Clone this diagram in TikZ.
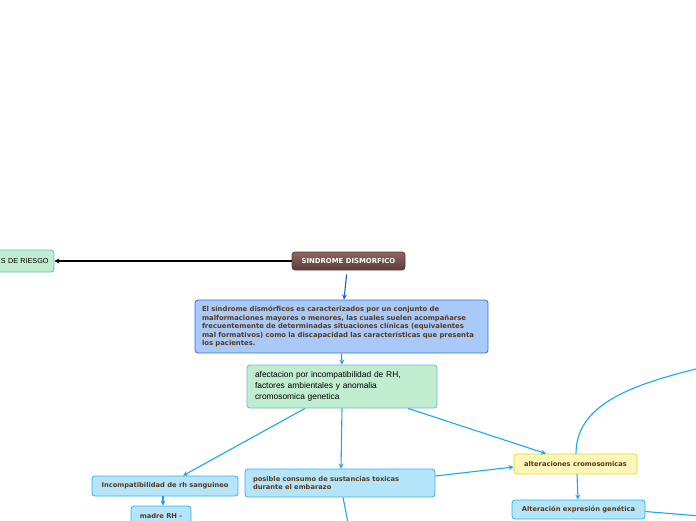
\documentclass[tikz,border=0pt]{standalone}
\usepackage{fontspec}
\setmainfont{Liberation Sans}
\newfontfamily\vfont{DejaVu Sans}
\usetikzlibrary{arrows.meta,calc}
\definecolor{brownA}{HTML}{8C6762}
\definecolor{brownB}{HTML}{5C3C38}
\definecolor{txtbrown}{HTML}{5A3A1C}
\definecolor{greenfill}{HTML}{C0ECD0}
\definecolor{greenedge}{HTML}{6EB4E0}
\definecolor{descfill}{HTML}{A9C9F8}
\definecolor{descedge}{HTML}{2E6FE0}
\definecolor{cyanfill}{HTML}{B4E5FA}
\definecolor{cyanedge}{HTML}{30B0EE}
\definecolor{yelfill}{HTML}{FFF7B8}
\definecolor{yeledge}{HTML}{E8D22E}
\definecolor{linkblue}{HTML}{1AA8EC}
\definecolor{darkblue}{HTML}{1A5FD6}
\tikzset{
  box/.style={draw, rounded corners=3pt, line width=0.8pt, inner sep=0pt},
  boldtxt/.style={text=txtbrown, font=\vfont\bfseries\fontsize{6.7}{8.5}\selectfont},
  cyanbox/.style={box, fill=cyanfill, draw=cyanedge, boldtxt},
  link/.style={draw=linkblue, line width=1.1pt, -{Stealth[length=5pt,width=5pt]}},
  plainlink/.style={draw=linkblue, line width=1.1pt},
}
\begin{document}
\begin{tikzpicture}[x=1pt,y=-1pt]
\useasboundingbox (0,0) rectangle (696,520);
% main title
\node[box, draw=brownB, top color=brownA, bottom color=brownB, text=white,
  font=\vfont\bfseries\fontsize{6.9}{8}\selectfont,
  minimum width=113pt, minimum height=18pt] (sd) at (348.5,261) {SINDROME DISMORFICO};
% left clipped node
\node[box, fill=greenfill, draw=greenedge, text=black,
  font=\fontsize{7.2}{8}\selectfont, text width=73pt, align=right, inner xsep=5.5pt,
  minimum height=22pt] (fr) at (12,261) {S DE RIESGO};
% description
\node[box, fill=descfill, draw=descedge, boldtxt, font=\vfont\bfseries\fontsize{6.85}{8.5}\selectfont,
  text width=279pt, align=left, inner xsep=7pt, minimum height=53pt] (desc) at (341.5,326.5)
  {El síndrome dismórficos es caracterizados por un conjunto de\\
   malformaciones mayores o menores, las cuales suelen acompañarse\\
   frecuentemente de determinadas situaciones clínicas (equivalentes\\
   mal formativos) como la discapacidad las características que presenta\\
   los pacientes.};
% afectacion
\node[box, fill=greenfill, draw=greenedge, text=black, font=\fontsize{8.4}{11}\selectfont,
  text width=174pt, align=left, inner xsep=8pt, minimum height=43pt] (afect) at (342,386.5)
  {afectacion por incompatibilidad de RH,\\
   factores ambientales y anomalia\\
   cromosomica genetica};
% children
\node[cyanbox, minimum width=146pt, minimum height=20pt] (incomp) at (165,486) {Incompatibilidad de rh sanguineo};
\node[cyanbox, minimum width=60pt, minimum height=20pt] (madre) at (161,516) {madre RH -};
\node[cyanbox, text width=174pt, align=left, inner xsep=8pt, minimum height=28pt] (posible) at (340,483)
  {posible consumo de sustancias toxicas\\ durante el embarazo};
\node[box, fill=yelfill, draw=yeledge, boldtxt, minimum width=123pt, minimum height=20pt] (alter) at (575.5,464) {alteraciones cromosomicas};
\node[cyanbox, minimum width=133pt, minimum height=19pt] (expr) at (578.5,509.5) {Alteración expresión genética};
% free ends
\coordinate (pend) at (349,528);
\coordinate (cend) at (700,368);
\coordinate (eend) at (700,516);
% connectors
\draw[line width=1.1pt, draw=black, -{Stealth[length=5pt,width=5pt]}] (sd.west) -- (fr.east);
\draw[line width=1.1pt, draw=darkblue, -{Stealth[length=5pt,width=5pt]}, shorten <=4pt] ($(sd.south)+(-1.5,0)$) -- ($(desc.north)+(2.5,0)$);
\draw[link] (desc.south) -- (afect.north);
\draw[link] ($(afect.south)+(-37,0)$) -- ($(incomp.north)+(18,0)$);
\draw[link] (afect.south) -- ($(posible.north)+(1,0)$);
\draw[link] ($(afect.south)+(66,0)$) -- ($(alter.north)+(-29.5,0)$);
\draw[link] ($(incomp.south)+(-2,0)$) -- ($(madre.north)+(2,0)$);
\draw[link] ($(posible.east)+(0,-7)$) -- ($(alter.west)+(0,3)$);
\draw[plainlink] ($(posible.south)+(3,0)$) -- (pend);
\draw[plainlink] ($(alter.north)+(0.5,0)$) .. controls (576,405) and (630,385) .. (cend);
\draw[link] ($(alter.south)+(1.5,0)$) -- ($(expr.north)+(-0.5,0)$);
\draw[plainlink] ($(expr.east)+(0,2)$) -- (eend);
\end{tikzpicture}
\end{document}
